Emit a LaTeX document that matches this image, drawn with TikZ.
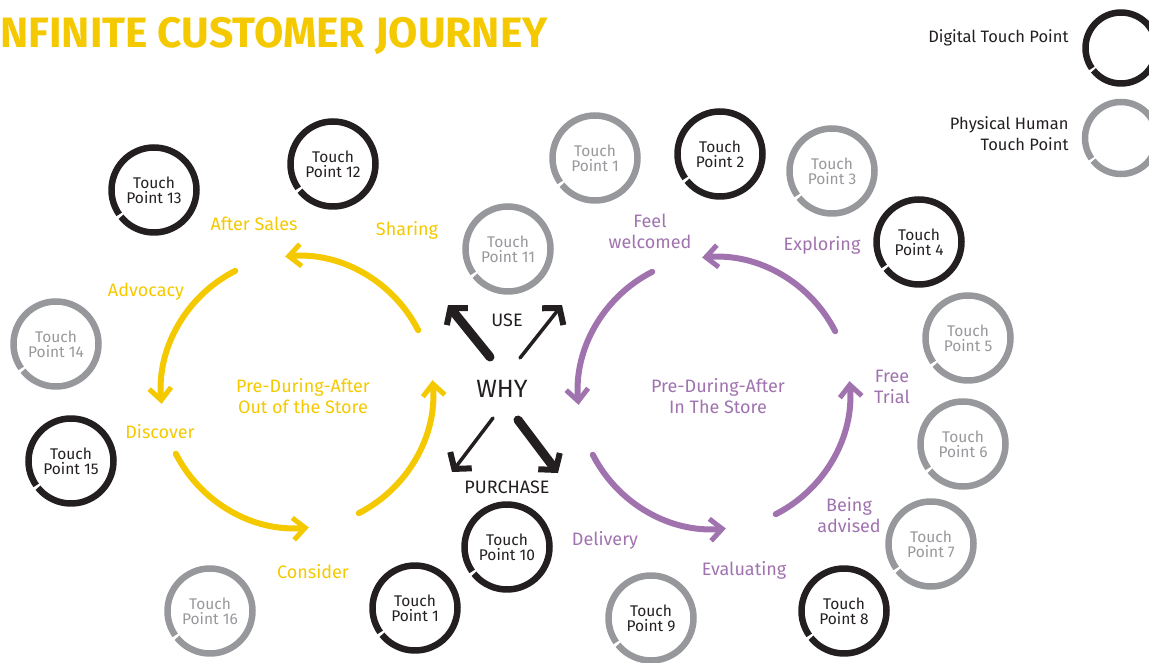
\documentclass[tikz,border=0pt]{standalone}
\usepackage{fontspec}
\setmainfont{Fira Sans}
\usetikzlibrary{arrows.meta}
\definecolor{tpdig}{HTML}{231F20}
\definecolor{tpphy}{HTML}{97989B}
\definecolor{outyel}{HTML}{F5C900}
\definecolor{inpur}{HTML}{A073AF}
\begin{document}
\begin{tikzpicture}[x=1pt,y=-1pt,
  tp/.style={align=center, font=\fontsize{15.5}{15}\selectfont},
  ring/.style={line width=6.5pt},
  stage/.style={align=center, font=\fontsize{18}{21}\selectfont},
  loop/.style={line width=6pt, line cap=round,
    -{Straight Barb[length=12pt, width=22pt, line width=5pt]}},
  why/.style={tpdig, line cap=round,
    -{Straight Barb[length=11pt, width=27pt, line width=6pt]}}]
\useasboundingbox (0,0) rectangle (1149,663);

% title
\node[anchor=west, text=outyel, font=\fontsize{42.5}{42}\selectfont\bfseries]
  (title) at (-3,36) {NFINITE CUSTOMER JOURNEY};

% legend
\node[anchor=east, text=tpdig, font=\fontsize{16.5}{21}\selectfont]
  (legdig) at (1072,38) {Digital Touch Point};
\node[anchor=east, align=right, text=tpdig, font=\fontsize{16.5}{21}\selectfont]
  (legphy) at (1072,134) {Physical Human\\Touch Point};
\draw[tpdig, ring] (1121,48) ++(145:35.5)
  arc[start angle=145, delta angle=356, radius=35.5];
\draw[tpphy, ring] (1121,138) ++(145:36)
  arc[start angle=145, delta angle=356, radius=36];

% touch points
\foreach \x/\y/\r/\t/\n [count=\i] in {
    154/190/tpdig/tpdig/13, 333/164/tpdig/tpdig/12, 508/249/tpphy/tpphy/11,
    595/158/tpphy/tpphy/1, 720/154/tpdig/tpdig/2, 832/171/tpphy/tpphy/3,
    919/242/tpdig/tpdig/4, 968/338/tpphy/tpphy/5, 963/444/tpphy/tpphy/6,
    931/544/tpphy/tpphy/7, 844/611/tpdig/tpdig/8, 651/618/tpphy/tpdig/9,
    507/547/tpdig/tpdig/10, 415/608/tpdig/tpdig/1, 210/611/tpphy/tpphy/16,
    71/461/tpdig/tpdig/15, 56/344/tpphy/tpphy/14} {
  \node[tp, text=\t] (tp\i) at (\x,\y) {Touch\\Point \n};
  \draw[\r, ring] (tp\i.center) ++(145:42.5)
    arc[start angle=145, delta angle=356, radius=42.5];
}

% out of the store
\node[stage, text=outyel] (oos) at (303,396) {Pre-During-After\\Out of the Store};
\coordinate (oosc) at (297,392);
\foreach \a in {-27,-117,-207,-297}
  \draw[outyel, loop] (oosc) ++(\a:136) arc[start angle=\a, delta angle=-68, radius=136];
\node[stage, text=outyel] (aftersales) at (254,224) {After Sales};
\node[stage, text=outyel] (sharing) at (407,230) {Sharing};
\node[stage, text=outyel] (advocacy) at (146,292) {Advocacy};
\node[stage, text=outyel] (discover) at (160,432) {Discover};
\node[stage, text=outyel] (consider) at (313,572) {Consider};

% in the store
\node[stage, text=inpur] (its) at (718,396) {Pre-During-After\\In The Store};
\coordinate (itsc) at (714,393);
\foreach \a in {-27,-117,-207,-297}
  \draw[inpur, loop] (itsc) ++(\a:136) arc[start angle=\a, delta angle=-68, radius=136];
\node[stage, text=inpur] (welcomed) at (650,231) {Feel\\welcomed};
\node[stage, text=inpur] (exploring) at (822,245) {Exploring};
\node[stage, text=inpur] (trial) at (892,387) {Free\\Trial};
\node[stage, text=inpur] (advised) at (849,515) {Being\\advised};
\node[stage, text=inpur] (evaluating) at (744,570) {Evaluating};
\node[stage, text=inpur] (delivery) at (605,540) {Delivery};

% why
\node[text=tpdig, font=\fontsize{25}{25}\selectfont] (why) at (502,389) {WHY};
\node[text=tpdig, font=\fontsize{18}{18}\selectfont] (use) at (507,320) {USE};
\node[text=tpdig, font=\fontsize{18}{18}\selectfont] (purchase) at (507,487) {PURCHASE};
\coordinate (ula) at (490,357); \coordinate (ulb) at (448,305);
\coordinate (ura) at (520,358); \coordinate (urb) at (562,305);
\coordinate (lla) at (493,418); \coordinate (llb) at (452,472);
\coordinate (lra) at (518,420); \coordinate (lrb) at (558,473);
\draw[why, line width=9pt] (ula) -- (ulb);
\draw[why, line width=3.5pt] (ura) -- (urb);
\draw[why, line width=3.5pt] (lla) -- (llb);
\draw[why, line width=9pt] (lra) -- (lrb);
\end{tikzpicture}
\end{document}
